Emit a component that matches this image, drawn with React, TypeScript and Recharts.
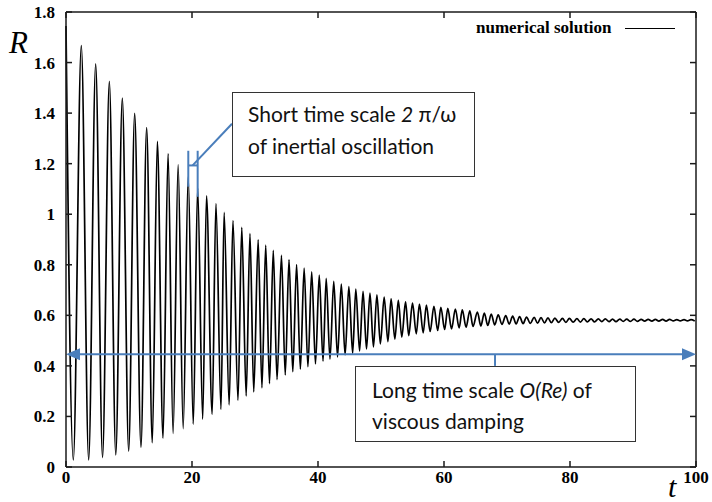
import React from 'react'
import { LineChart, Line, XAxis, YAxis, ReferenceLine } from 'recharts'

// peaks (maxima) of R(t)
const peakT = [
  0, 2.43, 4.71, 6.88, 8.94, 10.9, 12.8, 14.5, 16.2, 17.8, 19.4, 20.9, 22.3, 23.8, 25.1, 26.5,
  27.9, 29.2, 30.5, 31.7, 32.9, 34.2, 35.4, 36.6, 37.8, 39.0, 40.2, 41.3, 42.5, 43.7, 44.9, 46.0,
  47.15, 48.25, 49.35, 50.5, 51.6, 52.75, 53.9, 55.0, 56.1, 57.2, 58.4, 59.5, 60.6, 61.8, 62.9, 64.1,
  65.3, 66.4, 67.5, 68.6, 69.8, 70.9, 72.0, 73.1, 74.3, 75.4, 76.5, 77.6, 78.8, 79.9, 81.1,
  82.2, 83.35, 84.5, 85.6, 86.75, 87.9, 89.0, 90.15, 91.3, 92.4, 93.55, 94.7, 95.8, 96.95, 98.1, 99.2,
]
const peakR = [
  1.745, 1.667, 1.595, 1.526, 1.459, 1.399, 1.343, 1.288, 1.24, 1.195, 1.15, 1.104, 1.073, 1.042, 1.007, 0.975,
  0.948, 0.923, 0.899, 0.878, 0.857, 0.837, 0.82, 0.801, 0.787, 0.772, 0.759, 0.746, 0.734, 0.724, 0.714, 0.704,
  0.695, 0.688, 0.681, 0.672, 0.665, 0.659, 0.653, 0.648, 0.644, 0.64, 0.636, 0.632, 0.628, 0.625, 0.622, 0.618,
  0.613, 0.609, 0.605, 0.602, 0.599, 0.597, 0.595, 0.593, 0.592, 0.591, 0.59, 0.589, 0.588, 0.588, 0.587,
  0.587, 0.586, 0.586, 0.586, 0.585, 0.585, 0.585, 0.585, 0.584, 0.584, 0.584, 0.584, 0.584, 0.583, 0.583, 0.583,
]

// troughs (minima)
const troughT = [
  1.16, 3.6, 5.8, 7.9, 9.95, 11.9, 13.7, 15.4, 17.0, 18.6, 20.2, 21.7, 23.2, 24.6, 25.9, 27.3,
  28.6, 29.8, 31.1, 32.3, 33.5, 34.8, 36.0, 37.2, 38.4, 39.6, 40.8, 41.9, 43.1, 44.3, 45.5, 46.6,
  47.7, 48.8, 49.9, 51.1, 52.2, 53.3, 54.4, 55.6, 56.7, 57.8, 59.0, 60.1, 61.2, 62.4, 63.5, 64.6,
  65.85, 66.95, 68.05, 69.2, 70.35, 71.45, 72.55, 73.7, 74.85, 75.95, 77.05, 78.2, 79.35, 80.5, 81.65,
  82.75, 83.9, 85.05, 86.2, 87.3, 88.45, 89.6, 90.7, 91.85, 93.0, 94.1, 95.25, 96.4, 97.5, 98.65, 99.8,
]
const troughR = [
  0.028, 0.028, 0.037, 0.048, 0.063, 0.078, 0.096, 0.114, 0.133, 0.152, 0.17, 0.189, 0.209, 0.228, 0.246, 0.264,
  0.281, 0.297, 0.313, 0.33, 0.346, 0.364, 0.377, 0.387, 0.397, 0.408, 0.419, 0.427, 0.436, 0.444, 0.45, 0.459,
  0.467, 0.475, 0.487, 0.496, 0.506, 0.514, 0.52, 0.527, 0.531, 0.536, 0.54, 0.544, 0.546, 0.55, 0.553, 0.556,
  0.558, 0.56, 0.562, 0.564, 0.565, 0.566, 0.567, 0.568, 0.569, 0.57, 0.571, 0.572, 0.572, 0.573, 0.573,
  0.574, 0.574, 0.575, 0.575, 0.575, 0.576, 0.576, 0.576, 0.577, 0.577, 0.577, 0.577, 0.578, 0.578, 0.578, 0.578,
]

const xTicks = [0, 20, 40, 60, 80, 100]
const yTicks = [0, 0.2, 0.4, 0.6, 0.8, 1, 1.2, 1.4, 1.6, 1.8]

const data = [
  ...peakT.map((t, i) => ({ t, R: peakR[i] })),
  ...troughT.map((t, i) => ({ t, R: troughR[i] })),
].sort((a, b) => a.t - b.t)

const blue = '#4a7ebb'
const frame = '#1a1a1a'
const serif = 'Liberation Serif'
const boxFont = 'Lato'

function XTick(p: any) {
  return (
    <text
      x={p.x}
      y={p.y + 20}
      textAnchor="middle"
      fontFamily={serif}
      fontWeight="bold"
      fontSize={17}
      fill="#000"
      style={{ fontFamily: serif, fontWeight: 700, fontSize: 17, fill: '#000' }}
    >
      {p.payload.value}
    </text>
  )
}

function YTick(p: any) {
  return (
    <text
      x={55}
      y={p.y + 6}
      textAnchor="end"
      fontFamily={serif}
      fontWeight="bold"
      fontSize={17}
      fill="#000"
      style={{ fontFamily: serif, fontWeight: 700, fontSize: 17, fill: '#000' }}
    >
      {p.payload.value}
    </text>
  )
}

// mirror ticks on the top edge (drawn from a vertical reference line)
function TopTick(p: any) {
  const top = Math.min(p.y1, p.y2)
  return <line x1={p.x1} y1={top} x2={p.x1} y2={top + 6} stroke={frame} strokeWidth={1.5} />
}

// mirror ticks on the right edge (drawn from a horizontal reference line)
function RightTick(p: any) {
  const right = Math.max(p.x1, p.x2)
  return <line x1={right - 6} y1={p.y1} x2={right} y2={p.y1} stroke={frame} strokeWidth={1.5} />
}

function DoubleArrow(p: any) {
  const { x1, y1, x2, y2 } = p
  const h = 14
  const w = 6
  return (
    <g>
      <line x1={x1 + h - 2} y1={y1} x2={x2 - h + 2} y2={y2} stroke={blue} strokeWidth={2} />
      <polygon points={`${x1},${y1} ${x1 + h},${y1 - w} ${x1 + h},${y1 + w}`} fill={blue} />
      <polygon points={`${x2},${y2} ${x2 - h},${y2 - w} ${x2 - h},${y2 + w}`} fill={blue} />
    </g>
  )
}

export default function App() {
  return (
    <div style={{ position: 'absolute', left: 0, top: 0, width: 712, height: 502, background: '#fff' }}>
      <LineChart
        width={712}
        height={502}
        data={data}
        margin={{ top: 12, right: 16, bottom: 5, left: 0 }}
        style={{ fontFamily: serif }}
      >
        <XAxis
          dataKey="t"
          type="number"
          domain={[0, 100]}
          ticks={xTicks}
          height={30}
          tick={XTick}
          tickSize={-6}
          stroke={frame}
          strokeWidth={1.5}
        />
        <YAxis
          type="number"
          domain={[0, 1.8]}
          ticks={yTicks}
          width={66}
          tick={YTick}
          tickSize={-6}
          stroke={frame}
          strokeWidth={1.5}
        />
        {/* frame: top and right edges with mirror ticks */}
        <ReferenceLine y={1.8} stroke={frame} strokeWidth={1.5} />
        <ReferenceLine x={100} stroke={frame} strokeWidth={1.5} />
        {xTicks.map((v) => (
          <ReferenceLine key={'tx' + v} x={v} shape={TopTick} />
        ))}
        {yTicks.map((v) => (
          <ReferenceLine key={'ty' + v} y={v} shape={RightTick} />
        ))}
        <Line
          type="monotone"
          dataKey="R"
          stroke="#000"
          strokeWidth={1.7}
          dot={false}
          isAnimationActive={false}
        />
        {/* short time scale marker */}
        <ReferenceLine segment={[{ x: 19.41, y: 1.251 }, { x: 19.41, y: 1.109 }]} stroke={blue} strokeWidth={2} />
        <ReferenceLine segment={[{ x: 20.9, y: 1.251 }, { x: 20.9, y: 1.069 }]} stroke={blue} strokeWidth={2} />
        <ReferenceLine segment={[{ x: 19.41, y: 1.193 }, { x: 20.9, y: 1.193 }]} stroke={blue} strokeWidth={2} />
        <ReferenceLine segment={[{ x: 20.1, y: 1.193 }, { x: 26.35, y: 1.358 }]} stroke={blue} strokeWidth={2} />
        {/* long time scale arrow */}
        <ReferenceLine segment={[{ x: 0, y: 0.446 }, { x: 100, y: 0.446 }]} shape={DoubleArrow} />
        <ReferenceLine segment={[{ x: 68.1, y: 0.446 }, { x: 68.1, y: 0.4 }]} stroke={blue} strokeWidth={2} />
      </LineChart>

      <div style={{ position: 'absolute', left: 9, top: 27, fontFamily: serif, fontStyle: 'italic', fontSize: 31, lineHeight: '31px' }}>R</div>
      <div style={{ position: 'absolute', left: 668, top: 474, fontFamily: serif, fontStyle: 'italic', fontSize: 30, lineHeight: '26px' }}>t</div>

      <div style={{ position: 'absolute', left: 476, top: 18, fontFamily: serif, fontWeight: 'bold', fontSize: 17, lineHeight: '20px', whiteSpace: 'nowrap' }}>
        numerical solution
      </div>
      <div style={{ position: 'absolute', left: 625, top: 28, width: 50, height: 1, background: '#000' }} />

      <div
        style={{
          position: 'absolute', left: 232, top: 92, width: 243, height: 85, boxSizing: 'border-box',
          border: '1.2px solid #333', background: '#fff', fontFamily: boxFont, fontSize: 21,
          lineHeight: '32px', paddingLeft: 15, paddingTop: 5, color: '#111', whiteSpace: 'nowrap',
        }}
      >
        <div>Short time scale <i>2</i> π/ω</div>
        <div>of inertial oscillation</div>
      </div>

      <div
        style={{
          position: 'absolute', left: 355, top: 366, width: 281, height: 76, boxSizing: 'border-box',
          border: '1.2px solid #333', background: '#fff', fontFamily: boxFont, fontSize: 21,
          lineHeight: '31px', paddingLeft: 16, paddingTop: 7, color: '#111', whiteSpace: 'nowrap',
        }}
      >
        <div>Long time scale <i>O(Re)</i> of</div>
        <div>viscous damping</div>
      </div>
    </div>
  )
}
